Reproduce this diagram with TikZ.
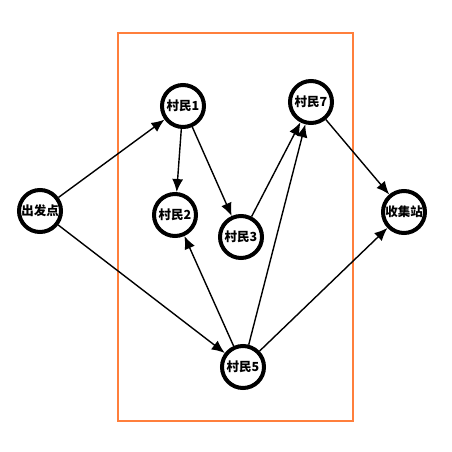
\documentclass[tikz,border=0pt]{standalone}
\usepackage{fontspec}
\newfontfamily\cjk{Noto Sans CJK SC}
\usetikzlibrary{arrows.meta}
\definecolor{boxorange}{RGB}{255,127,60}
\begin{document}
\begin{tikzpicture}[x=1pt,y=-1pt,
  vnode/.style={circle,draw=black,line width=4pt,fill=white,minimum size=42pt,inner sep=0pt,font=\cjk\bfseries\fontsize{12.5}{14}\selectfont},
  edge/.style={draw=black,line width=1.4pt,-{Latex[length=13pt,width=11pt]}}]
\useasboundingbox (0,0) rectangle (452,452);
\draw[boxorange,line width=2.2pt] (118,33) rectangle (353,421);
\node[vnode] (s) at (40,211) {出发点};
\node[vnode] (v1) at (183,106) {村民1};
\node[vnode] (v7) at (311,102) {村民7};
\node[vnode] (t) at (404,212) {收集站};
\node[vnode] (v2) at (175,215) {村民2};
\node[vnode] (v3) at (241,237) {村民3};
\node[vnode] (v5) at (243,367) {村民5};
\draw[edge] (s) -- (v1);
\draw[edge] (s) -- (v5);
\draw[edge] (v1) -- (v2);
\draw[edge] (v1) -- (v3);
\draw[edge] (v3) -- (v7);
\draw[edge] (v5) -- (v2);
\draw[edge] (v5) -- (v7);
\draw[edge] (v5) -- (t);
\draw[edge] (v7) -- (t);
\end{tikzpicture}
\end{document}
